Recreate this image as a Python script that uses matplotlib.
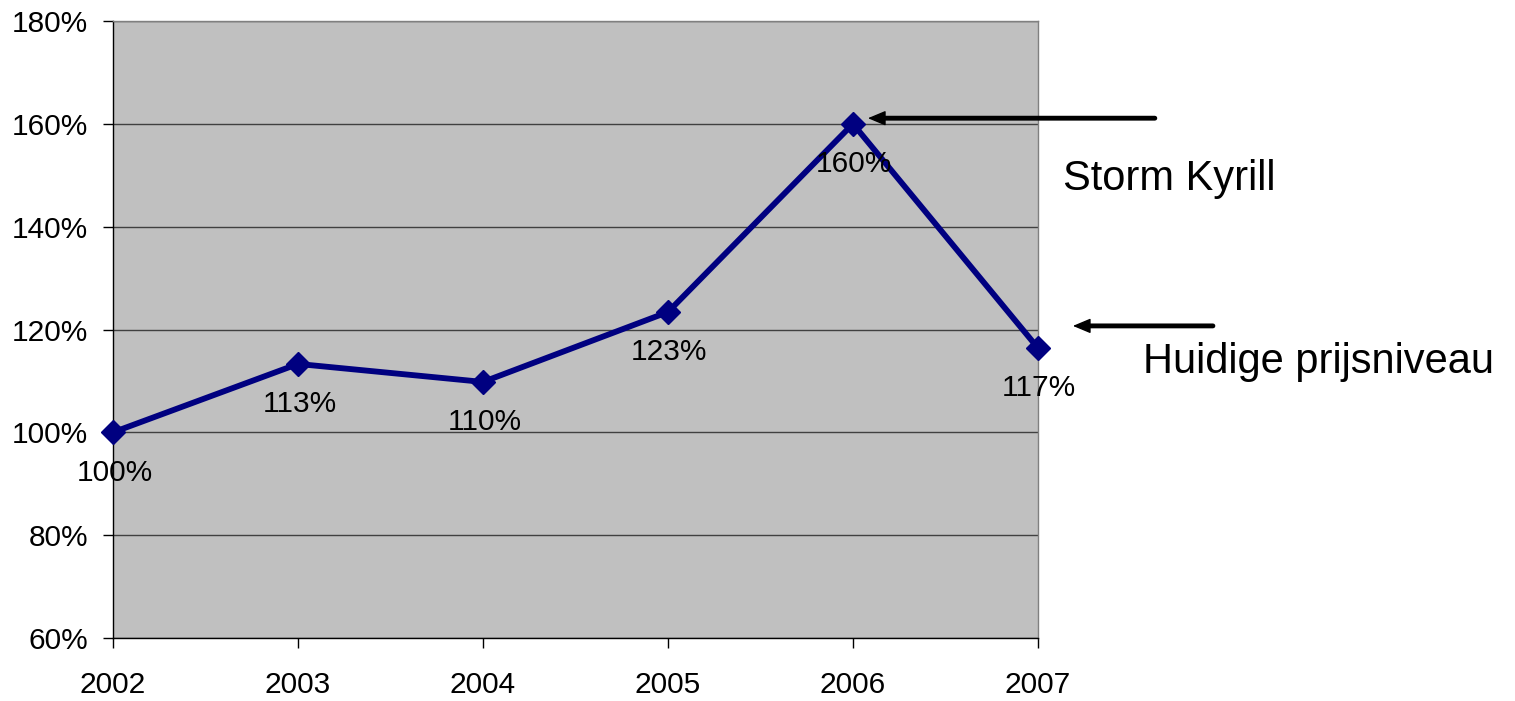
import matplotlib
matplotlib.use('Agg')
import matplotlib.pyplot as plt

# price index per year (2002 = 100%)
years = ['2002', '2003', '2004', '2005', '2006', '2007']
index_pct = [100, 113.3, 109.8, 123.4, 160, 116.4]
labels = ['100%', '113%', '110%', '123%', '160%', '117%']

plt.rcParams['font.family'] = ['Liberation Sans', 'DejaVu Sans']

fig = plt.figure(figsize=(15.15, 7.01), dpi=100)
ax = fig.add_axes([0.0746, 0.0899, 0.6105, 0.8801])
ax.set_facecolor('#C0C0C0')

xs = list(range(len(years)))
ax.plot(xs, index_pct, color='#000080', lw=4.2, marker='D', ms=12,
        clip_on=False, zorder=3)

for x, y, lab in zip(xs, index_pct, labels):
    ax.annotate(lab, (x, y), xytext=(1, -29), textcoords='offset points',
                ha='center', va='center', fontsize=21.5, zorder=4,
                annotation_clip=False)

ax.set_xlim(0, 5)
ax.set_ylim(60, 180)
ax.set_xticks(xs)
ax.set_xticklabels(years)
ax.set_yticks(range(60, 181, 20))
ax.set_yticklabels(['%d%%' % v for v in range(60, 181, 20)])
ax.tick_params(axis='both', labelsize=21.5, length=7, width=1, color='black')
ax.tick_params(axis='x', pad=17)
ax.tick_params(axis='y', pad=11)
ax.yaxis.grid(True, color='#404040', lw=1)
ax.set_axisbelow(True)

ax.spines['left'].set_color('black')
ax.spines['bottom'].set_color('black')
ax.spines['top'].set_color('#808080')
ax.spines['right'].set_color('#808080')
for s in ax.spines.values():
    s.set_linewidth(1)

# annotations with arrows
def arrow(tail, head):
    ax.annotate('', xy=head, xytext=tail, annotation_clip=False,
                arrowprops=dict(arrowstyle='-', lw=3.5, color='black',
                                shrinkA=0, shrinkB=8))
    ax.annotate('', xy=head, xytext=tail, annotation_clip=False,
                arrowprops=dict(arrowstyle='-|>,head_length=0.55,head_width=0.23',
                                mutation_scale=20, lw=1, color='black',
                                shrinkA=0, shrinkB=0))

arrow((5.632, 161.1), (4.081, 161.1))
arrow((5.946, 120.7), (5.189, 120.7))

ax.text(5.135, 147.1, 'Storm Kyrill', fontsize=30, va='baseline', ha='left')
ax.text(5.568, 111.5, 'Huidige prijsniveau', fontsize=30, va='baseline', ha='left')

fig.savefig('out.png', dpi=100)
